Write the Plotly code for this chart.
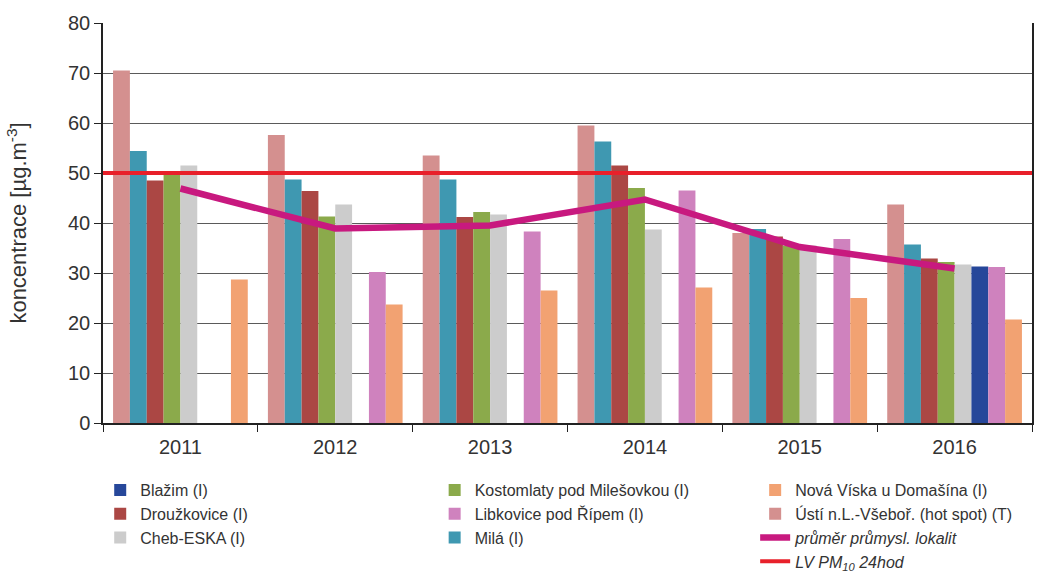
import plotly.graph_objects as go

years = ["2011", "2012", "2013", "2014", "2015", "2016"]

usti = [70.5, 57.6, 53.5, 59.5, 38.0, 43.7]
mila = [54.4, 48.7, 48.7, 56.3, 38.8, 35.7]
drouzkovice = [48.5, 46.4, 41.2, 51.5, 37.3, 32.9]
kostomlaty = [49.8, 41.3, 42.2, 47.0, 35.5, 32.2]
cheb = [51.5, 43.7, 41.7, 38.7, 35.5, 31.7]
blazim = [None, None, None, None, None, 31.3]
libkovice = [None, 30.2, 38.3, 46.5, 36.8, 31.2]
nova_viska = [28.7, 23.7, 26.5, 27.1, 25.0, 20.7]
prumer = [46.9, 38.9, 39.5, 44.7, 35.2, 30.9]
lv_limit = 50

y_ticks = [0, 10, 20, 30, 40, 50, 60, 70, 80]

# (name, values, colour, legend group, rank)
bars = [
    ("Ústí n.L.-Všeboř. (hot spot) (T)", usti, "#D4908F", "legend3", 2),
    ("Milá (I)", mila, "#3F98B1", "legend2", 3),
    ("Droužkovice (I)", drouzkovice, "#AB4744", "legend", 2),
    ("Kostomlaty pod Milešovkou (I)", kostomlaty, "#8BAA4B", "legend2", 1),
    ("Cheb-ESKA (I)", cheb, "#CCCCCC", "legend", 3),
    ("Blažim (I)", blazim, "#26479A", "legend", 1),
    ("Libkovice pod Řípem (I)", libkovice, "#CF82BE", "legend2", 2),
    ("Nová Víska u Domašína (I)", nova_viska, "#F2A272", "legend3", 1),
]

fig = go.Figure()
for name, vals, col, lg, rank in bars:
    fig.add_trace(go.Bar(
        x=years, y=vals, name=name, marker=dict(color=col, line=dict(width=0)),
        legend=lg, legendrank=rank,
    ))

fig.add_trace(go.Scatter(
    x=years, y=prumer, mode="lines", name="<i>průměr průmysl. lokalit</i>",
    line=dict(color="#C8197F", width=6.5), legend="legend3", legendrank=3,
))

fig.add_trace(go.Scatter(
    x=[0, 1], y=[lv_limit, lv_limit], mode="lines", xaxis="x2",
    name="<i>LV PM<sub>10</sub> 24hod</i>",
    line=dict(color="#E8202A", width=4), legend="legend3", legendrank=4,
))

legend_font = dict(family="Liberation Sans, Arial", size=16, color="#333333")
leg_common = dict(font=legend_font, bgcolor="rgba(0,0,0,0)", yanchor="top",
                  y=-0.125, xanchor="left", orientation="v", itemwidth=30,
                  tracegroupgap=0)

fig.update_layout(
    width=1056, height=572,
    margin=dict(l=103, r=24, t=23, b=149, autoexpand=False),
    paper_bgcolor="white", plot_bgcolor="white",
    barmode="group", bargap=0.13, bargroupgap=0,
    font=dict(family="Liberation Sans, Arial", color="#333333"),
    showlegend=True,
    legend=dict(x=-0.003, **leg_common),
    legend2=dict(x=0.357, **leg_common),
    legend3=dict(x=0.702, **leg_common),
    xaxis=dict(
        type="category", showgrid=False, showline=True, linecolor="#222222",
        linewidth=1.5, ticks="outside", tickson="boundaries", ticklen=7,
        tickcolor="#222222", tickfont=dict(size=20, color="#333333"),
        ticklabelstandoff=5, automargin=False,
    ),
    xaxis2=dict(overlaying="x", range=[0, 1], visible=False, fixedrange=True),
    yaxis=dict(
        range=[0, 80], tickvals=y_ticks, showgrid=True, gridcolor="#5a5a5a",
        gridwidth=1, showline=True, linecolor="#222222", linewidth=1.5,
        ticks="outside", ticklen=7, tickcolor="#222222",
        tickfont=dict(size=20, color="#333333"), zeroline=False,
        mirror=True, automargin=False,
    ),
    annotations=[dict(
        text="koncentrace [µg.m<sup>-3</sup>]", textangle=-90,
        xref="paper", yref="paper", x=-0.093, y=0.5,
        xanchor="center", yanchor="middle", showarrow=False,
        font=dict(size=22, color="#333333"),
    )],
)

fig.write_html("out.html", config={"displayModeBar": False},
               post_script="document.body.style.margin='0px';")
